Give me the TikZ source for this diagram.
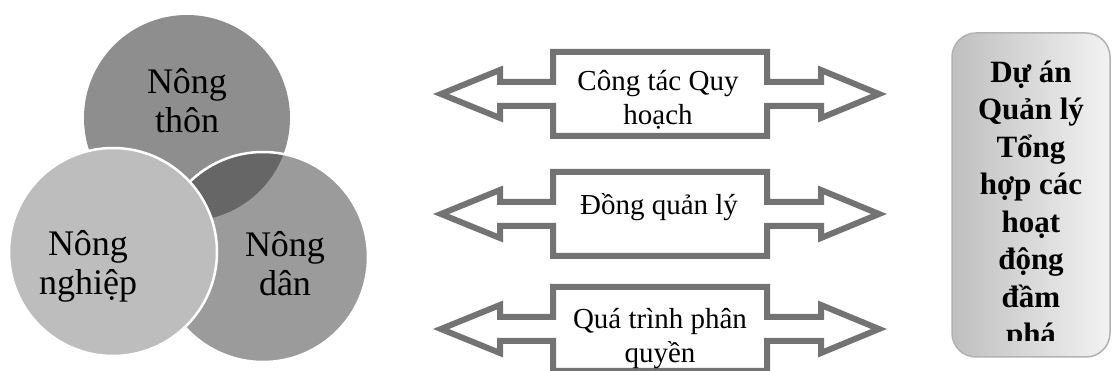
\documentclass[tikz,border=0pt]{standalone}
\usepackage{fontspec}
\setmainfont{Liberation Serif}
\definecolor{thongray}{HTML}{8E8E8E}
\definecolor{dangray}{HTML}{9B9B9B}
\definecolor{nghiepgray}{HTML}{BDBDBD}
\definecolor{overgray}{HTML}{666666}
\definecolor{arrowgray}{HTML}{737373}
\begin{document}
\begin{tikzpicture}[x=1pt,y=-1pt,
	circtext/.style={align=center,font=\fontsize{36}{39}\selectfont},
	arrtext/.style={align=center,font=\fontsize{29}{34}\selectfont},
	arrline/.style={draw=arrowgray,line width=6pt,fill=white,line join=miter},
	boxtext/.style={align=center,font=\bfseries\fontsize{31}{37.5}\selectfont}]
		\useasboundingbox (0,0) rectangle (1112,371);
		% three circles
		\fill[thongray] (187,118) circle (103);
		\fill[dangray] (263,257) circle (105);
		\begin{scope}
			\clip (187,118) circle (103);
			\fill[overgray] (263,257) circle (105);
		\end{scope}
		\draw[white,line width=2.5pt] (263,257) circle (105);
		\filldraw[fill=nghiepgray,draw=white,line width=2.5pt] (113,252) circle (104);
		\node[circtext] (thon) at (187,101) {Nông\\thôn};
		\node[circtext] (nghiep) at (88,266) {Nông\\nghiệp};
		\node[circtext] (dan) at (285,264) {Nông\\dân};
		% double arrows
		\foreach \c in {94,214,329}
		\draw[arrline] (441,\c) -- (500,\c-24) -- (500,\c-12) -- (553,\c-12) -- (553,\c-42)
			-- (767,\c-42) -- (767,\c-12) -- (821,\c-12) -- (821,\c-24) -- (879,\c)
			-- (821,\c+24) -- (821,\c+12) -- (767,\c+12) -- (767,\c+42) -- (553,\c+42)
			-- (553,\c+12) -- (500,\c+12) -- (500,\c+24) -- cycle;
		\node[arrtext] (quyhoach) at (658,100) {Công tác Quy\\hoạch};
		\node[arrtext] (dongql) at (659,207) {Đồng quản lý};
		\node[arrtext] (phanquyen) at (660,339) {Quá trình phân\\quyền};
		% project box
		\shade[rounded corners=24pt,left color=black!25,right color=black!5] (952,33) rectangle (1110,357);
		\draw[rounded corners=24pt,draw=black!30,line width=1.5pt] (952,33) rectangle (1110,357);
		\begin{scope}
			\clip (952,33) rectangle (1110,341);
			\node[boxtext] (duan) at (1031,206) {Dự án\\Quản lý\\Tổng\\hợp các\\hoạt\\động\\đầm\\phá};
		\end{scope}
\end{tikzpicture}
\end{document}
